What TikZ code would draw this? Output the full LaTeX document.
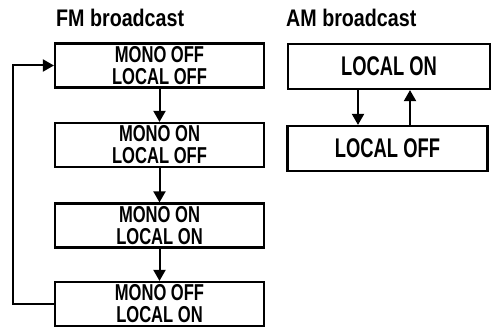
\documentclass[tikz,border=0pt]{standalone}
\usepackage{fontspec}
\setmainfont{Liberation Sans}
\newfontfamily\lcdfont[FakeStretch=0.72]{Liberation Sans}
\newfontfamily\amfont[FakeStretch=0.68]{Liberation Sans}
\newfontfamily\titlefont[FakeStretch=0.82]{Liberation Sans}
\usetikzlibrary{arrows.meta}
\begin{document}
\begin{tikzpicture}[x=1pt,y=-1pt,
  lcdbox/.style={draw, line width=2.2pt, fill=white, inner sep=0pt,
    minimum width=209pt, minimum height=44pt, align=center,
    font=\lcdfont\bfseries\fontsize{23}{22}\selectfont},
  ambox/.style={lcdbox, minimum width=202pt, minimum height=45pt,
    font=\amfont\bfseries\fontsize{27}{27}\selectfont},
  titletext/.style={font=\titlefont\bfseries\fontsize{24}{24}\selectfont,
    anchor=base west, inner sep=0pt},
  arr/.style={line width=2pt, -{Triangle[width=12pt,length=11pt]}}]
\useasboundingbox (0,0) rectangle (492,328);
\node[titletext] (fmt) at (56,27) {FM broadcast};
\node[titletext] (amt) at (286,27) {AM broadcast};
\node[lcdbox] (m1) at (159.5,65.5) {MONO OFF\\LOCAL OFF};
\node[lcdbox] (m2) at (159.5,145) {MONO ON\\LOCAL OFF};
\node[lcdbox] (m3) at (159.5,225.5) {MONO ON\\LOCAL ON};
\node[lcdbox] (m4) at (159.5,304) {MONO OFF\\LOCAL ON};
\draw[arr] (m1) -- (m2);
\draw[arr] (m2) -- (m3);
\draw[arr] (m3) -- (m4);
\coordinate (lp) at (13,0);
\draw[arr] (m4.west) -- (m4.west -| lp) |- (m1.west);
\node[ambox] (on) at (389,66.5) {LOCAL ON};
\node[ambox, minimum width=200pt] (off) at (387.5,148.5) {LOCAL OFF};
\coordinate (dn) at (358,0);
\coordinate (up) at (410,0);
\draw[arr] (on.south -| dn) -- (off.north -| dn);
\draw[arr] (off.north -| up) -- (on.south -| up);
\end{tikzpicture}
\end{document}
